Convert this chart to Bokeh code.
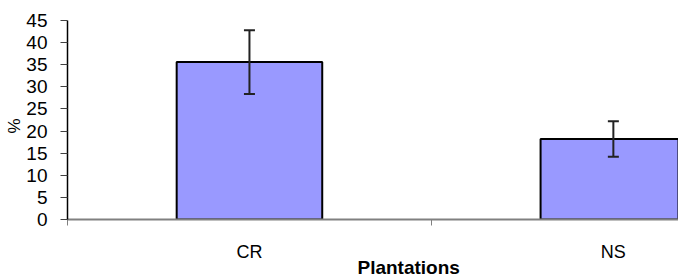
from bokeh.plotting import figure
from bokeh.models import FixedTicker, Range1d, Whisker, ColumnDataSource, TeeHead, Title
from bokeh.embed import file_html
from bokeh.resources import INLINE

categories = ["CR", "NS"]
values = [35.6, 18.2]
errors = [7.2, 4.0]
y_ticks = [0, 5, 10, 15, 20, 25, 30, 35, 40, 45]

xpos = [i + 0.5 for i in range(len(categories))]
src = ColumnDataSource(dict(
    x=xpos, top=values,
    upper=[v + e for v, e in zip(values, errors)],
    lower=[v - e for v, e in zip(values, errors)],
))

p = figure(output_backend="svg", toolbar_location=None,
           width=678, height=274, frame_width=611, frame_height=199,
           min_border_left=67, min_border_right=0, min_border_top=20, min_border_bottom=55,
           x_range=Range1d(0, 1.679), y_range=Range1d(0, 45))
p.outline_line_color = None
p.grid.grid_line_color = None
p.background_fill_color = "white"
p.border_fill_color = "white"

p.vbar(x="x", top="top", width=0.4, bottom=0, source=src,
       fill_color="#9999FF", line_color="black", line_width=2)

w = Whisker(base="x", upper="upper", lower="lower", source=src, level="overlay",
            line_color="#222222", line_width=2,
            upper_head=TeeHead(size=11, line_color="#222222", line_width=2),
            lower_head=TeeHead(size=11, line_color="#222222", line_width=2))
p.add_layout(w)

# x axis
xa = p.xaxis[0]
xa.ticker = FixedTicker(ticks=xpos, minor_ticks=[0, 1, 2])
xa.major_label_overrides = {x: c for x, c in zip(xpos, categories)}
xa.major_tick_line_color = None
xa.major_tick_out = 0
xa.major_tick_in = 0
xa.minor_tick_out = 6
xa.minor_tick_in = 0
xa.minor_tick_line_color = "#808080"
xa.axis_line_color = "#808080"
xa.axis_line_width = 2
xa.major_label_standoff = 16
xa.major_label_text_font = "Liberation Sans"
xa.major_label_text_font_size = "18px"
xa.major_label_text_color = "black"

# y axis
ya = p.yaxis[0]
ya.ticker = FixedTicker(ticks=y_ticks)
ya.minor_tick_line_color = None
ya.major_tick_out = 7
ya.major_tick_in = 0
ya.major_tick_line_color = "#404040"
ya.axis_line_color = "black"
ya.axis_line_width = 1.5
ya.major_label_standoff = 13
ya.major_label_text_font = "Liberation Sans"
ya.major_label_text_font_size = "19px"
ya.major_label_text_color = "black"

p.add_layout(Title(text="Plantations", align="left", offset=290,
                   text_font="Liberation Sans", text_font_size="19px",
                   text_font_style="bold", text_color="black",
                   standoff=-26), "below")
p.add_layout(Title(text="%", align="left", offset=86,
                   text_font="Liberation Sans", text_font_size="17px",
                   text_font_style="normal", text_color="black",
                   standoff=0), "left")

open("out.html", "w").write(file_html(p, INLINE))
